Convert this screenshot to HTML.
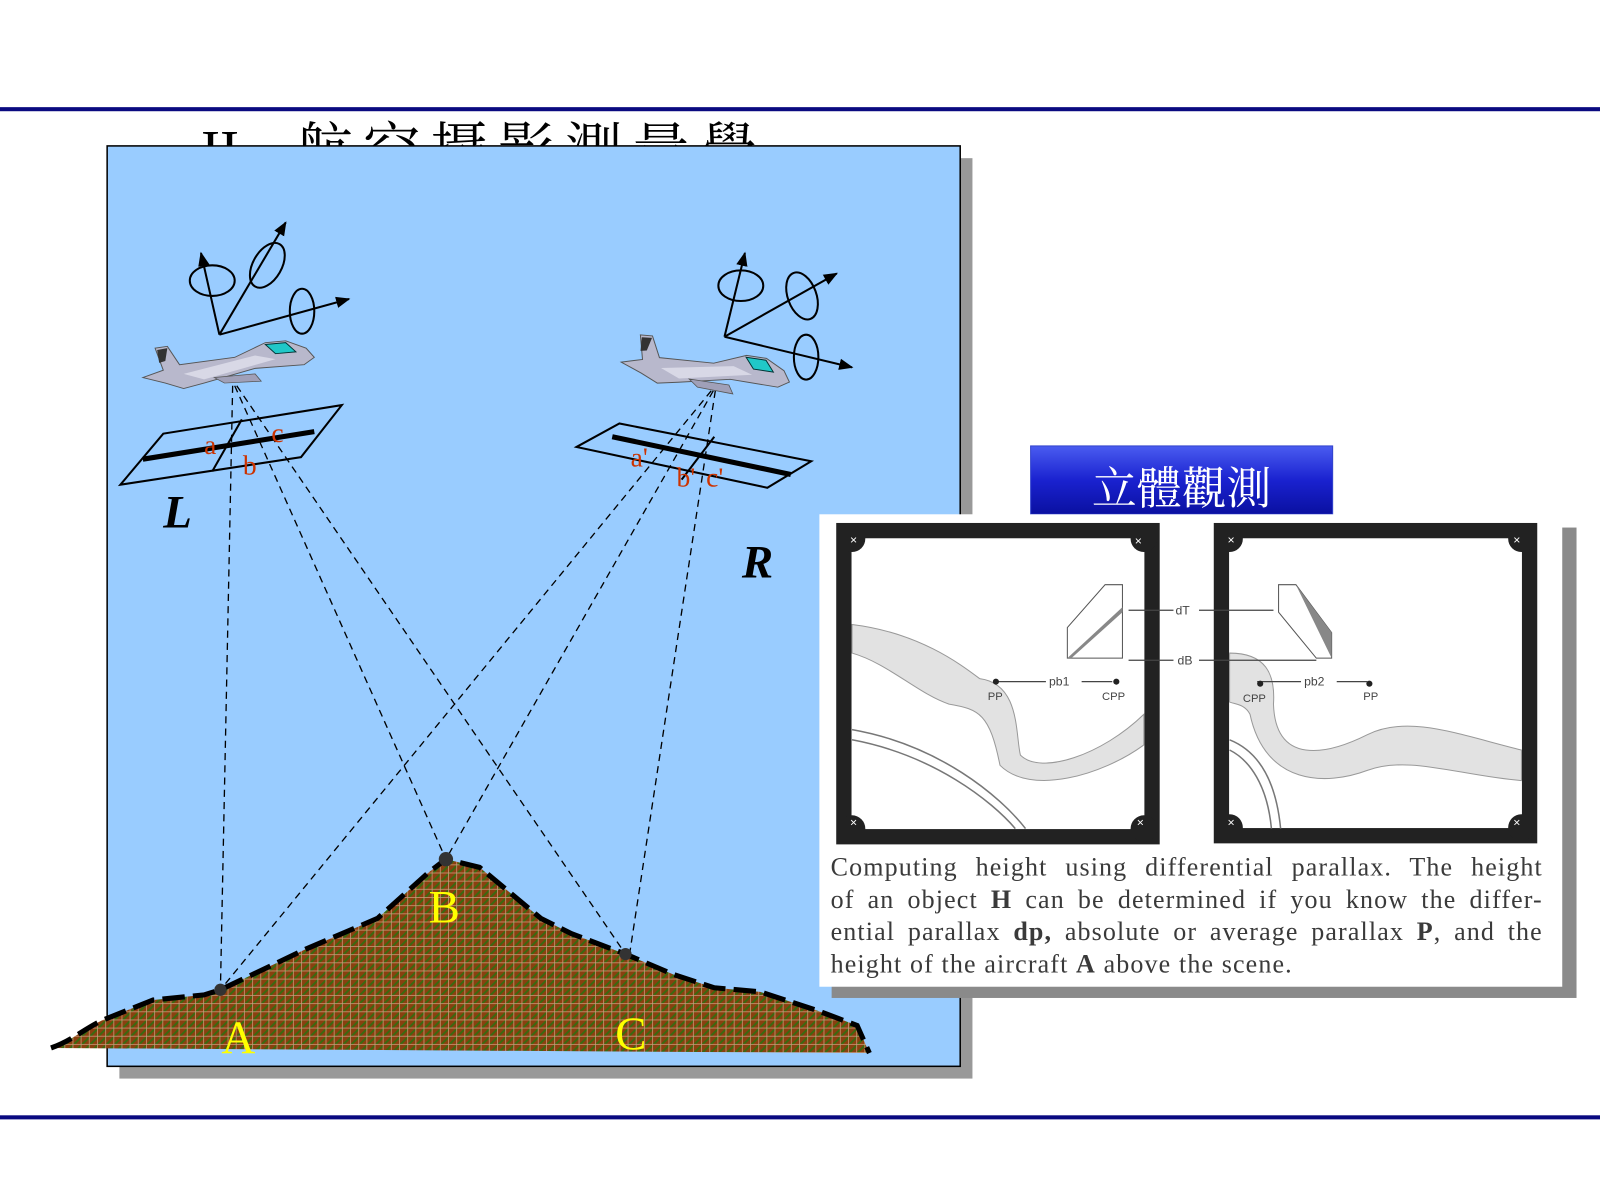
<!DOCTYPE html>
<html><head><meta charset="utf-8"><style>
html,body{margin:0;padding:0;background:#fff;}
#w{position:relative;width:1568px;height:1176px;transform:scale(1.020408);transform-origin:0 0;overflow:hidden;}
svg{position:absolute;left:0;top:0;}
.cap{position:absolute;left:814px;top:834px;width:698px;font-family:"Liberation Serif",serif;font-size:25.5px;line-height:31.7px;color:#3a3a3a;letter-spacing:1.1px;}
.cap div{text-align:justify;text-align-last:justify;white-space:nowrap;}
.cap div.l{text-align-last:left;}
</style></head><body><div id="w">
<svg width="1568" height="1176" viewBox="0 0 1568 1176" font-family="Liberation Serif, serif">
<defs>
<pattern id="g" width="8" height="8" patternUnits="userSpaceOnUse">
<rect width="8" height="8" fill="#8a4010"/>
<path d="M-2 10L10 -2" stroke="#3a6a10" stroke-width="2"/>
<path d="M0 7.5H8M7.5 0V8" stroke="#d0a080" stroke-width="0.7"/>
</pattern>
<linearGradient id="bt" x1="0" y1="0" x2="0" y2="1">
<stop offset="0" stop-color="#4a5cf0"/><stop offset="0.5" stop-color="#1a22d0"/><stop offset="1" stop-color="#0a10a0"/>
</linearGradient>
<marker id="ar" viewBox="0 0 10 10" refX="9" refY="5" markerWidth="7" markerHeight="7" orient="auto"><path d="M0 1L10 5L0 9z" fill="#000"/></marker>
<g id="plane">
<path d="M0 40 L20 32 L12 8 L24 6 L36 26 L90 18 L120 2 L140 0 L160 8 L168 18 L158 26 L110 30 L60 46 L40 52 L22 46 Z" fill="#b8b8cc" stroke="#555" stroke-width="1"/>
<path d="M40 36 L110 16 L130 20 L60 42 Z" fill="#d8d8e6"/>
<path d="M120 4 L140 2 L150 12 L130 14Z" fill="#20c8c8" stroke="#033" stroke-width="1"/>
<path d="M14 10 L24 8 L22 22 L16 24Z" fill="#333"/>
<path d="M70 40 L110 36 L116 44 L80 46Z" fill="#a0a0b8" stroke="#555" stroke-width="0.8"/>
</g>
</defs>
<rect x="0" y="105" width="1568" height="4" fill="#0a0a80"/>
<rect x="0" y="1093" width="1568" height="4" fill="#0a0a80"/>
<text x="197" y="166" font-size="56" font-family="Liberation Serif, Noto Serif CJK SC, serif"><tspan>II.</tspan><tspan x="290" letter-spacing="10">航空攝影測量學</tspan></text>
<rect x="117" y="155" width="836" height="902" fill="#999"/>
<rect x="105" y="143" width="836" height="902" fill="#99ccff" stroke="#000" stroke-width="1.5"/>
<path d="M50 1027 C70 1020 80 1010 100 1000 L150 980 L200 975 L216 970 L300 930 L370 900 L420 855 L437 842 L470 850 L530 900 L560 915 L613 935 L660 955 L700 968 L745 972 L800 990 L840 1005 L852 1032 Z" fill="url(#g)"/>
<path d="M50 1027 C70 1020 80 1010 100 1000 L150 980 L200 975 L216 970 L300 930 L370 900 L420 855 L437 842 L470 850 L530 900 L560 915 L613 935 L660 955 L700 968 L745 972 L800 990 L840 1005 L852 1032" fill="none" stroke="#000" stroke-width="5" stroke-dasharray="22 8"/>
<g stroke="#000" stroke-width="1.3" stroke-dasharray="7 5" fill="none">
<path d="M228 378L216 970M230 378L437 842M232 378L613 935M697 383L216 970M699 383L437 842M701 383L617 935"/>
</g>
<circle cx="216" cy="970" r="6" fill="#333"/><circle cx="437" cy="842" r="7" fill="#333"/><circle cx="613" cy="935" r="6" fill="#333"/>
<g fill="#ffff00" font-size="46"><text x="217" y="1032">A</text><text x="420" y="904">B</text><text x="603" y="1028">C</text></g>
<g stroke="#000" fill="none" stroke-width="2">
<path d="M118 475L160 425L335 397L295 448Z"/><path d="M237 411L208 462"/>
<path d="M565 438L607 415L795 452L752 478Z"/><path d="M700 428L668 470"/>
</g>
<path d="M140 450L308 423" stroke="#000" stroke-width="5"/>
<path d="M600 428L775 465" stroke="#000" stroke-width="5"/>
<g fill="#cc3300" font-size="27"><text x="200" y="445">a</text><text x="238" y="465">b</text><text x="266" y="433">c</text>
<text x="618" y="457">a'</text><text x="663" y="477">b'</text><text x="692" y="477">c'</text></g>
<text x="160" y="517" font-size="46" font-weight="bold" font-style="italic">L</text>
<text x="727" y="566" font-size="46" font-weight="bold" font-style="italic">R</text>
<use href="#plane" transform="translate(140,334) scale(1,0.9)"/>
<use href="#plane" transform="translate(618,318) rotate(14) scale(0.98,0.95)"/>
<g stroke="#000" stroke-width="2" fill="none">
<path d="M215 328L280 218" marker-end="url(#ar)"/><path d="M215 328L197 248" marker-end="url(#ar)"/><path d="M215 328L342 293" marker-end="url(#ar)"/>
<ellipse cx="208" cy="275" rx="22" ry="15"/><ellipse cx="262" cy="260" rx="14" ry="24" transform="rotate(30 262 260)"/><ellipse cx="296" cy="305" rx="12" ry="22"/>
<path d="M710 330L730 248" marker-end="url(#ar)"/><path d="M710 330L820 268" marker-end="url(#ar)"/><path d="M710 330L835 360" marker-end="url(#ar)"/>
<ellipse cx="726" cy="280" rx="22" ry="15"/><ellipse cx="786" cy="290" rx="14" ry="24" transform="rotate(-20 786 290)"/><ellipse cx="790" cy="350" rx="12" ry="22"/>
</g>
<rect x="1010" y="437" width="296" height="67" fill="url(#bt)" stroke="#3344cc"/>
<text x="1158" y="494" font-size="44" fill="#fff" text-anchor="middle" font-family="Noto Serif CJK SC, serif">立體觀測</text>
<rect x="815" y="517" width="730" height="461" fill="#8a8a8a"/>
<rect x="803" y="504" width="728" height="463" fill="#fff"/>
<g>
<rect x="827" y="520" width="302" height="300" fill="#fff" stroke="#222" stroke-width="15"/>
<rect x="1197" y="520" width="302" height="299" fill="#fff" stroke="#222" stroke-width="15"/>
<g fill="#222"><circle cx="835" cy="528" r="13"/><circle cx="1121" cy="528" r="13"/><circle cx="835" cy="812" r="13"/><circle cx="1121" cy="812" r="13"/>
<circle cx="1205" cy="528" r="13"/><circle cx="1491" cy="528" r="13"/><circle cx="1205" cy="811" r="13"/><circle cx="1491" cy="811" r="13"/></g>
<path d="M835 612 C900 620 940 650 960 665 C1000 670 995 720 1000 740 C1020 760 1080 740 1121 700 L1121 730 C1080 760 1010 780 980 750 C970 700 960 695 930 690 C900 680 870 650 835 640Z" fill="#e2e2e2" stroke="#999"/>
<path d="M1205 640 C1240 640 1250 660 1248 690 C1250 750 1300 740 1340 720 C1380 700 1430 720 1491 735 L1491 765 C1430 760 1380 740 1340 755 C1300 770 1240 770 1225 700 C1220 690 1210 690 1205 688Z" fill="#e2e2e2" stroke="#999"/>
<path d="M835 715 C920 730 980 780 1005 812" fill="none" stroke="#777" stroke-width="1.5"/>
<path d="M835 725 C915 740 972 785 995 812" fill="none" stroke="#777" stroke-width="1.5"/>
<path d="M1205 725 C1230 735 1250 760 1255 812M1205 735 C1225 745 1242 770 1246 812" fill="none" stroke="#777" stroke-width="1.5"/>
<path d="M1083 573L1100 573L1100 645L1046 645L1046 615Z" fill="#fff" stroke="#555"/><path d="M1100 595L1100 600L1050 645L1046 645Z" fill="#888"/>
<path d="M1253 573L1270 573L1305 620L1305 645L1290 645L1253 600Z" fill="#fff" stroke="#555"/><path d="M1270 573L1305 620L1305 645Z" fill="#888"/>
<g stroke="#444" stroke-width="1.2" font-family="Liberation Sans, sans-serif" font-size="12" fill="#444">
<path d="M1106 598H1150M1175 598H1248M1106 647H1150M1175 647H1290M976 668H1025M1060 668H1090M1232 668H1275M1310 668H1340"/>
<text x="1152" y="602" stroke="none">dT</text><text x="1154" y="651" stroke="none">dB</text>
<text x="1028" y="672" stroke="none">pb1</text><text x="1278" y="672" stroke="none">pb2</text>
<text x="968" y="686" stroke="none" font-size="11">PP</text><text x="1080" y="686" stroke="none" font-size="11">CPP</text>
<text x="1218" y="688" stroke="none" font-size="11">CPP</text><text x="1336" y="686" stroke="none" font-size="11">PP</text>
</g>
<g fill="#222"><circle cx="976" cy="668" r="3"/><circle cx="1094" cy="668" r="3"/><circle cx="1235" cy="670" r="3"/><circle cx="1342" cy="670" r="3"/></g>
<g fill="#fff" font-size="12" font-family="Liberation Sans, sans-serif"><text x="833" y="533">×</text><text x="1112" y="534">×</text><text x="833" y="810">×</text><text x="1114" y="810">×</text>
<text x="1203" y="533">×</text><text x="1483" y="533">×</text><text x="1203" y="810">×</text><text x="1483" y="810">×</text></g>
</g>
</svg>
<div class="cap">
<div>Computing height using differential parallax. The height</div>
<div>of an object <b>H</b> can be determined if you know the differ-</div>
<div>ential parallax <b>dp,</b> absolute or average parallax <b>P</b>, and the</div>
<div class="l">height of the aircraft <b>A</b> above the scene.</div>
</div>
</div></body></html>
